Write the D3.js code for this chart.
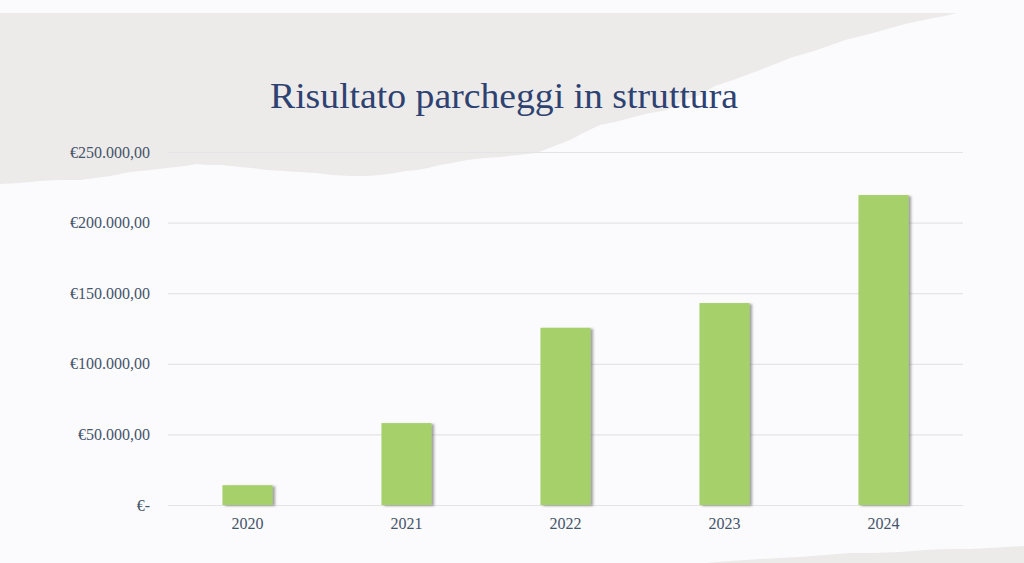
<!DOCTYPE html>
<html>
<head>
<meta charset="utf-8">
<script src="https://cdn.jsdelivr.net/npm/d3@7"></script>
<style>
  html, body { margin: 0; padding: 0; background: #fbfafc; }
  svg { display: block; }
  .axis text { font-family: "Liberation Serif", "DejaVu Serif", serif; fill: #44546a; }
  .axis path, .axis line { display: none; }
  .grid line { stroke: #e4e4e6; stroke-width: 1.2; }
  .grid path { display: none; }
</style>
</head>
<body>
<div id="chart"></div>
<script>
// Chart data
const years = ["2020", "2021", "2022", "2023", "2024"];
const results = [14000, 58000, 125500, 143000, 219500];
const yTicks = [0, 50000, 100000, 150000, 200000, 250000];
const title = "Risultato parcheggi in struttura";

const width = 1024;
const height = 563;
const pad = { left: 168, right: 61, top: 152, bottom: 58 };
const innerWidth = width - pad.left - pad.right;
const innerHeight = height - pad.top - pad.bottom;

const svg = d3
  .select("#chart")
  .append("svg")
  .attr("width", width)
  .attr("height", height);

// Page background with the torn grey paper at the top
svg.append("rect").attr("width", width).attr("height", height).attr("fill", "#fbfafc");

const tornTop = [
  [0, 13], [957, 13], [945, 16], [933, 18], [905, 24], [873, 33], [845, 40],
  [817, 50], [790, 58], [760, 70], [733, 80], [715, 86], [700, 95], [685, 100],
  [667, 110], [645, 114], [630, 118], [615, 122], [600, 125], [585, 132],
  [570, 140], [552, 147], [536, 153], [518, 155], [500, 157], [484, 158],
  [467, 160], [452, 163], [440, 165], [428, 168], [417, 170], [405, 171],
  [395, 173], [380, 175], [367, 176], [350, 176], [333, 175], [316, 173],
  [300, 172], [284, 171], [267, 170], [252, 168], [240, 167], [222, 165],
  [207, 165], [196, 164], [185, 166], [176, 167], [167, 168], [150, 170],
  [130, 172], [110, 176], [95, 178], [80, 180], [60, 180], [40, 181],
  [20, 183], [0, 184],
];
svg
  .append("path")
  .attr("d", d3.line().curve(d3.curveLinearClosed)(tornTop))
  .attr("fill", "#ecebe9");

const tornBottom = [
  [706, 563], [730, 561], [760, 559], [780, 558], [800, 557], [825, 555],
  [850, 553], [875, 553], [900, 552], [925, 550], [950, 549], [970, 549],
  [990, 548], [1024, 546], [1024, 563],
];
svg
  .append("path")
  .attr("d", d3.line().curve(d3.curveLinearClosed)(tornBottom))
  .attr("fill", "#ecebe9");

// Bar shadow
const defs = svg.append("defs");
defs
  .append("filter")
  .attr("id", "shadow")
  .attr("x", "-20%")
  .attr("y", "-20%")
  .attr("width", "140%")
  .attr("height", "140%")
  .append("feDropShadow")
  .attr("dx", 2.5)
  .attr("dy", 1)
  .attr("stdDeviation", 1.2)
  .attr("flood-color", "#555")
  .attr("flood-opacity", 0.55);

// Scales
const x = d3
  .scaleBand()
  .domain(years)
  .range([0, innerWidth])
  .paddingInner(0.685)
  .paddingOuter(0.3425);

const y = d3.scaleLinear().domain([0, 250000]).range([innerHeight, 0]);

const euro = (v) =>
  v === 0
    ? "€-"
    : "€" + d3.format(",.2f")(v).replace(/,/g, "#").replace(".", ",").replace(/#/g, ".");

// Grid
svg
  .append("g")
  .attr("class", "grid")
  .attr("transform", `translate(${pad.left},${pad.top})`)
  .call(d3.axisLeft(y).tickValues(yTicks).tickSize(-innerWidth).tickFormat(""));

// Bars
svg
  .append("g")
  .attr("transform", `translate(${pad.left},${pad.top})`)
  .selectAll("rect")
  .data(results)
  .join("rect")
  .attr("x", (d, i) => x(years[i]))
  .attr("y", (d) => y(d))
  .attr("width", x.bandwidth())
  .attr("height", (d) => y(0) - y(d))
  .attr("fill", "#a6d06a")
  .attr("filter", "url(#shadow)");

// Axes
svg
  .append("g")
  .attr("class", "y axis")
  .attr("transform", `translate(${pad.left - 18},${pad.top})`)
  .call(d3.axisLeft(y).tickValues(yTicks).tickSize(0).tickPadding(0).tickFormat(euro))
  .selectAll("text")
  .attr("font-size", 16)
  .attr("dy", "0.32em");

svg
  .append("g")
  .attr("class", "x axis")
  .attr("transform", `translate(${pad.left},${pad.top + innerHeight})`)
  .call(d3.axisBottom(x).tickSize(0).tickPadding(13))
  .selectAll("text")
  .attr("font-size", 16);

// Title
svg
  .append("text")
  .attr("x", 504)
  .attr("y", 108)
  .attr("text-anchor", "middle")
  .attr("font-family", '"Liberation Serif", "DejaVu Serif", serif')
  .attr("font-size", 35)
  .attr("textLength", 468)
  .attr("lengthAdjust", "spacingAndGlyphs")
  .attr("fill", "#2e4272")
  .text(title);
</script>
</body>
</html>
